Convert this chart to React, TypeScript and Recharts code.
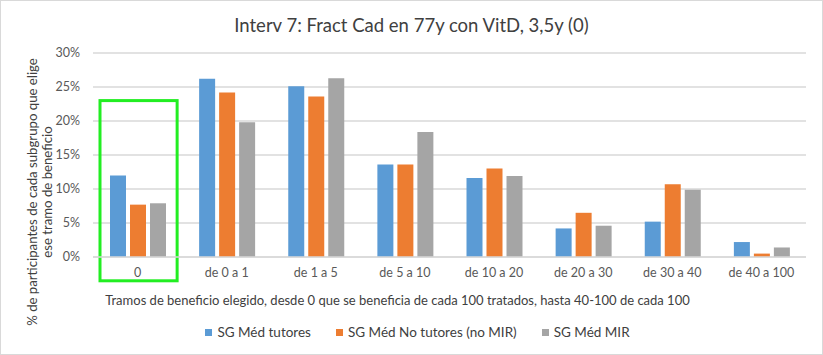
import { BarChart, Bar, XAxis, YAxis, CartesianGrid, ReferenceArea } from 'recharts'

const categories = ['0', 'de 0 a 1', 'de 1 a 5', 'de 5 a 10', 'de 10 a 20', 'de 20 a 30', 'de 30 a 40', 'de 40 a 100']
const tutores = [12.0, 26.2, 25.1, 13.6, 11.6, 4.2, 5.2, 2.2]
const noTutores = [7.7, 24.2, 23.6, 13.6, 13.0, 6.5, 10.7, 0.5]
const mir = [7.9, 19.8, 26.3, 18.4, 11.9, 4.6, 9.9, 1.4]
const yTicks = [0, 5, 10, 15, 20, 25, 30]

const series = [
  { key: 'tutores', name: 'SG Méd tutores', color: '#5b9bd5' },
  { key: 'noTutores', name: 'SG Méd No tutores (no MIR)', color: '#ed7d31' },
  { key: 'mir', name: 'SG Méd MIR', color: '#a5a5a5' },
]

const chartData = categories.map((cat, i) => ({
  cat,
  tutores: tutores[i],
  noTutores: noTutores[i],
  mir: mir[i],
}))

const FONT = 'Lato, "Open Sans", sans-serif'

function YLabel() {
  // dos líneas, rotadas
  return (
    <text transform="rotate(-90, 40, 192)" x={40} y={192} textAnchor="middle" fontSize={13.2} fill="#404040" fontFamily={FONT}>
      <tspan x={40} dy={-3}>% de participantes de cada subgrupo que elige</tspan>
      <tspan x={40} dy={15}>ese tramo de beneficio</tspan>
    </text>
  )
}

function HighlightBox(props: any) {
  const { x, y, width, height } = props
  return (
    <rect x={x + 7} y={y} width={width - 12} height={height} fill="none" stroke="#22ee22" strokeWidth={3} />
  )
}

export default function App() {
  return (
    <div
      style={{
        position: 'absolute',
        left: 0,
        top: 0,
        width: 823,
        height: 355,
        background: '#fff',
        outline: '1px solid #d9d9d9',
        outlineOffset: -1,
        fontFamily: FONT,
      }}
    >
      <div
        style={{
          position: 'absolute',
          top: 14,
          left: 0,
          width: 823,
          textAlign: 'center',
          fontSize: 18.5,
          color: '#404040',
        }}
      >
        Interv 7: Fract Cad en 77y con VitD, 3,5y (0)
      </div>
      <BarChart
        width={823}
        height={355}
        data={chartData}
        margin={{ top: 53, right: 17, bottom: 50, left: 33 }}
        barCategoryGap={17}
        barGap={4}
      >
        <CartesianGrid vertical={false} stroke="#d9d9d9" strokeWidth={1.5} />
        <XAxis
          dataKey="cat"
          height={48}
          axisLine={{ stroke: '#d9d9d9', strokeWidth: 1.5 }}
          tickLine={false}
          tickSize={0}
          tickMargin={11}
          interval={0}
          tick={{ fontSize: 12.5, fill: '#595959', fontFamily: FONT }}
          label={{
            value: 'Tramos de beneficio elegido, desde 0 que se beneficia de cada 100 tratados, hasta 40-100 de cada 100',
            position: 'insideBottom',
            offset: 0,
            dx: -52,
            fontSize: 13,
            fill: '#404040',
            fontFamily: FONT,
          }}
        />
        <YAxis
          width={60}
          domain={[0, 30]}
          ticks={yTicks}
          tickFormatter={(v) => `${v}%`}
          axisLine={false}
          tickLine={false}
          tickSize={0}
          tickMargin={13}
          tick={{ fontSize: 12.5, fill: '#595959', fontFamily: FONT }}
          label={<YLabel />}
        />
        {series.map((s) => (
          <Bar key={s.key} dataKey={s.key} name={s.name} fill={s.color} isAnimationActive={false} />
        ))}
        <ReferenceArea x1="0" x2="0" y1={-3.5} y2={23} ifOverflow="visible" shape={<HighlightBox />} />
      </BarChart>
      <div
        style={{
          position: 'absolute',
          top: 324,
          left: 6,
          width: 823,
          display: 'flex',
          justifyContent: 'center',
          gap: 25,
          fontSize: 13.5,
          color: '#404040',
        }}
      >
        {series.map((s) => (
          <div key={s.key} style={{ display: 'flex', alignItems: 'center' }}>
            <span style={{ width: 7, height: 7, background: s.color, marginRight: 5, display: 'inline-block' }} />
            {s.name}
          </div>
        ))}
      </div>
    </div>
  )
}
